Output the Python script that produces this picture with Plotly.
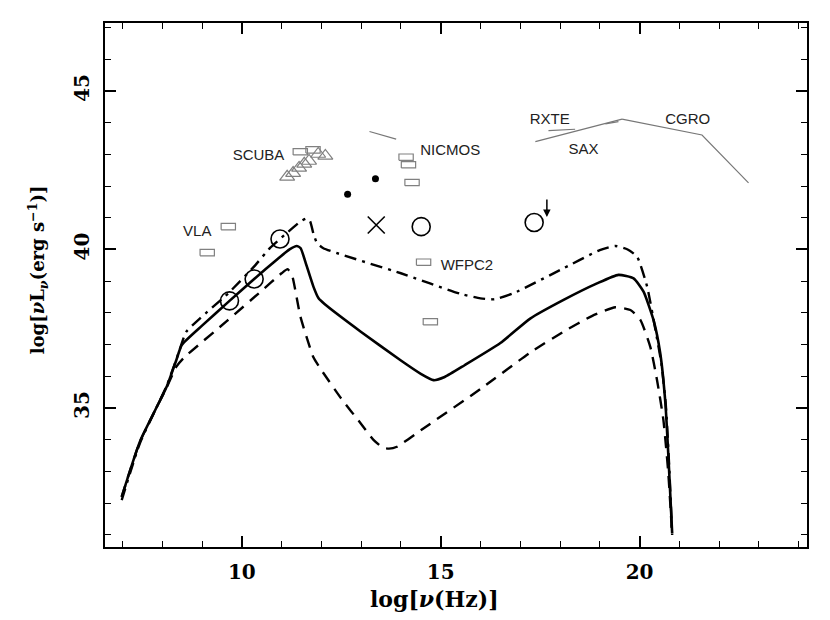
import plotly.graph_objects as go

# model curves: log nu, log nuLnu
solid_x = [6.98, 7.44, 8.11, 8.35, 8.49, 9.0, 9.69, 10.31, 10.9, 11.2, 11.38, 11.48, 11.6, 11.8,
           11.93, 12.08, 13.0, 14.0, 14.5, 14.82, 15.1, 15.6, 16.5, 17.25, 18.09, 18.93, 19.47,
           19.85, 20.1, 20.35, 20.52, 20.65, 20.73, 20.82]
solid_y = [32.2, 33.95, 35.67, 36.5, 36.99, 37.6, 38.38, 39.07, 39.7, 40.0, 40.11, 40.04, 39.6, 38.83,
           38.46, 38.28, 37.4, 36.5, 36.08, 35.88, 35.98, 36.35, 37.05, 37.82, 38.41, 38.93, 39.2,
           39.09, 38.67, 37.78, 36.73, 35.15, 33.36, 31.05]

dashdot_x = [6.98, 7.44, 8.11, 8.4, 8.6, 8.95, 9.66, 10.3, 10.71, 10.96, 11.47, 11.64, 11.72, 11.8,
             11.89, 12.05, 14.0, 15.5, 16.0, 16.35, 16.83, 18.0, 19.0, 19.39, 19.7, 19.94, 20.19,
             20.4, 20.55, 20.66, 20.74, 20.82]
dashdot_y = [32.1, 33.9, 35.7, 36.7, 37.4, 37.83, 38.62, 39.45, 40.05, 40.33, 40.88, 40.98, 40.88, 40.5,
             40.2, 40.04, 39.25, 38.6, 38.46, 38.43, 38.62, 39.35, 39.98, 40.11, 40.0, 39.77, 38.83,
             37.46, 36.4, 35.1, 33.3, 31.0]

dashed_x = [6.98, 7.44, 8.11, 8.35, 8.53, 9.62, 10.5, 11.0, 11.15, 11.26, 11.47, 11.8, 12.0, 12.5,
            13.0, 13.31, 13.55, 13.7, 13.9, 14.5, 16.0, 17.25, 18.09, 18.8, 19.39, 19.77, 20.02,
            20.27, 20.44, 20.6, 20.72, 20.82]
dashed_y = [32.2, 33.95, 35.65, 36.3, 36.57, 37.74, 38.7, 39.25, 39.38, 39.2, 37.9, 36.6, 36.2, 35.3,
            34.5, 34.0, 33.75, 33.72, 33.78, 34.3, 35.6, 36.75, 37.41, 37.9, 38.18, 38.09, 37.78,
            36.93, 35.88, 34.62, 33.0, 31.0]

# observations
circ_curve_x = [9.69, 10.31, 10.96]
circ_curve_y = [38.38, 39.07, 40.33]
circ_x = [14.51, 17.35]
circ_y = [40.72, 40.85]
cross_x = [13.38]
cross_y = [40.77]
dot_x = [12.66, 13.36]
dot_y = [41.74, 42.23]
rect_x = [9.66, 9.13, 11.47, 11.79, 14.13, 14.19, 14.28, 14.57, 14.74]
rect_y = [40.72, 39.9, 43.08, 43.14, 42.91, 42.67, 42.11, 39.6, 37.72]
tri_x = [11.14, 11.29, 11.44, 11.57, 11.69, 11.92, 12.10]
tri_y = [42.29, 42.41, 42.57, 42.70, 42.79, 43.01, 42.95]

# spectra from X-ray / gamma instruments
seg_lines = [
    ([13.21, 13.88], [43.72, 43.48]),
    ([17.71, 18.38], [43.75, 43.79]),
    ([19.14, 19.47], [43.96, 44.03]),
    ([17.38, 19.56], [43.40, 44.11]),
    ([19.56, 21.57, 22.74], [44.11, 43.61, 42.1]),
]

labels = ["SCUBA", "NICMOS", "VLA", "WFPC2", "RXTE", "SAX", "CGRO"]
label_x = [10.42, 15.24, 8.88, 15.66, 17.74, 18.59, 21.21]
label_y = [42.95, 43.09, 40.53, 39.46, 44.06, 43.14, 44.06]

fig = go.Figure()

fig.add_trace(go.Scatter(x=solid_x, y=solid_y, mode='lines',
                         line=dict(color='black', width=2.6, shape='spline', smoothing=0.5)))
fig.add_trace(go.Scatter(x=dashdot_x, y=dashdot_y, mode='lines',
                         line=dict(color='black', width=2.4, dash='12px,6px,3px,6px',
                                   shape='spline', smoothing=0.5)))
fig.add_trace(go.Scatter(x=dashed_x, y=dashed_y, mode='lines',
                         line=dict(color='black', width=2.4, dash='12px,8px',
                                   shape='spline', smoothing=0.5)))

for xs, ys in seg_lines:
    fig.add_trace(go.Scatter(x=xs, y=ys, mode='lines',
                             line=dict(color='#777777', width=1.2)))

# open rectangles, built around each point
hw, hh = 0.18, 0.1
rx, ry = [], []
for cx, cy in zip(rect_x, rect_y):
    rx += [cx - hw, cx + hw, cx + hw, cx - hw, cx - hw, None]
    ry += [cy - hh, cy - hh, cy + hh, cy + hh, cy - hh, None]
fig.add_trace(go.Scatter(x=rx, y=ry, mode='lines',
                         line=dict(color='#808080', width=1.2)))

fig.add_trace(go.Scatter(x=tri_x, y=tri_y, mode='markers',
                         marker=dict(symbol='triangle-up-open', size=13,
                                     color='#808080', line=dict(width=1.2))))
fig.add_trace(go.Scatter(x=circ_curve_x + circ_x, y=circ_curve_y + circ_y, mode='markers',
                         marker=dict(symbol='circle-open', size=18, color='black',
                                     line=dict(width=1.6))))
fig.add_trace(go.Scatter(x=cross_x, y=cross_y, mode='markers',
                         marker=dict(symbol='x-thin-open', size=17, color='black',
                                     line=dict(width=1.6))))
fig.add_trace(go.Scatter(x=dot_x, y=dot_y, mode='markers',
                         marker=dict(symbol='circle', size=7, color='black')))

fig.add_trace(go.Scatter(x=label_x, y=label_y, mode='text', text=labels,
                         textfont=dict(family='Liberation Sans', size=15, color='#222222')))

axis_common = dict(
    showline=True, linecolor='black', linewidth=2, mirror='allticks',
    ticks='inside', ticklen=11, tickwidth=1.5, tickcolor='black',
    showgrid=False, zeroline=False, dtick=5, tick0=0,
    minor=dict(dtick=1, tick0=0, ticks='inside', ticklen=6, tickwidth=1.2, tickcolor='black'),
    tickfont=dict(family='DejaVu Serif', size=20, color='black', weight='bold'),
    ticklabelstandoff=6,
)

fig.update_xaxes(range=[6.56, 24.21], **axis_common)
fig.update_yaxes(range=[30.62, 47.14], tickangle=-90, **axis_common)

fig.add_annotation(x=17.67, y=41.02, ax=17.67, ay=41.62, xref='x', yref='y', axref='x', ayref='y',
                   showarrow=True, arrowhead=2, arrowsize=1, arrowwidth=1.5, arrowcolor='black',
                   text='')

fig.add_annotation(text='log[<i>ν</i>(Hz)]', xref='paper', yref='paper', x=0.47, y=-0.1,
                   xanchor='center', yanchor='middle', showarrow=False,
                   font=dict(family='DejaVu Serif', size=22, color='black', weight='bold'))
fig.add_annotation(text='log[<i>ν</i>L<sub><i>ν</i></sub>(erg s<sup>−1</sup>)]',
                   xref='paper', yref='paper', x=-0.0955, y=0.53, textangle=-90,
                   xanchor='center', yanchor='middle', showarrow=False,
                   font=dict(family='DejaVu Serif', size=18, color='black', weight='bold'))

fig.update_layout(
    width=830, height=620,
    margin=dict(l=97, r=31, t=15, b=81),
    plot_bgcolor='white', paper_bgcolor='white',
    showlegend=False,
)

fig.write_html("out.html")
